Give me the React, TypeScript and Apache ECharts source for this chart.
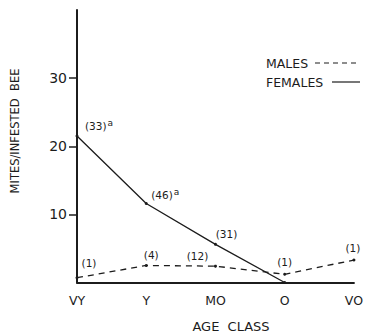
import React, { useEffect, useRef } from "react";
import * as echarts from "echarts";

const categories = ["VY", "Y", "MO", "O", "VO"];
const femaleValues: (number | null)[] = [21.5, 11.6, 5.6, 0, null];
const maleValues = [0.7, 2.5, 2.4, 1.2, 3.3];
const femaleCounts = ["(33)", "(46)", "(31)", "", ""];
const femaleSup = ["a", "a", "", "", ""];
const maleCounts = ["(1)", "(4)", "(12)", "(1)", "(1)"];
const yTicks = [10, 20, 30];

const INK = "#1c1c1c";
const FONT = "DejaVu Sans, sans-serif";

const femaleOffsets = [[22, -1], [19, 1], [11, -3], [0, 0], [0, 0]];
const maleOffsets = [[12, -8], [5, -3], [-18, -3], [0, -5], [-1, -5]];

export default function App() {
  const ref = useRef<HTMLDivElement>(null);
  useEffect(() => {
    if (!ref.current) return;
    const chart = echarts.init(ref.current, null, { renderer: "svg" });
    const rich = {
      n: { fontSize: 10.5, fontFamily: FONT, color: INK },
      s: { fontSize: 9, fontFamily: FONT, color: INK, verticalAlign: "top", padding: [0, 0, 6, 1] },
    };
    const femaleData = femaleValues.map((v, i) => ({
      value: v,
      label: {
        show: femaleCounts[i] !== "",
        position: "top",
        distance: 0,
        offset: femaleOffsets[i],
        formatter: femaleSup[i] ? `{n|${femaleCounts[i]}}{s|${femaleSup[i]}}` : `{n|${femaleCounts[i]}}`,
        rich,
      },
    }));
    const maleData = maleValues.map((v, i) => ({
      value: v,
      label: {
        show: true,
        position: "top",
        distance: 0,
        offset: maleOffsets[i],
        formatter: `{n|${maleCounts[i]}}`,
        rich,
      },
    }));
    chart.setOption({
      animation: false,
      backgroundColor: "#ffffff",
      grid: { left: 77, right: 9, top: 10, bottom: 49.5, containLabel: false },
      xAxis: {
        type: "category",
        data: categories,
        boundaryGap: false,
        axisLine: { lineStyle: { color: INK, width: 2 } },
        axisTick: { show: false },
        axisLabel: { color: INK, fontSize: 12.5, fontFamily: FONT, margin: 11 },
        splitLine: { show: false },
      },
      yAxis: {
        type: "value",
        min: 0,
        max: 40,
        interval: 10,
        axisLine: { show: true, lineStyle: { color: INK, width: 2 } },
        axisTick: { show: true, length: 8, customValues: yTicks, lineStyle: { color: INK, width: 1.5 } },
        axisLabel: { color: INK, fontSize: 14, fontFamily: FONT, margin: 10, customValues: yTicks },
        splitLine: { show: false },
      },
      graphic: [
        {
          type: "text",
          x: 15,
          y: 131,
          rotation: Math.PI / 2,
          style: {
            text: "MITES/INFESTED  BEE",
            fill: INK,
            font: `11.5px ${FONT}`,
            align: "center",
            verticalAlign: "middle",
          },
        },
        {
          type: "text",
          x: 231,
          y: 326,
          style: {
            text: "AGE  CLASS",
            fill: INK,
            font: `13px ${FONT}`,
            align: "center",
            verticalAlign: "middle",
          },
        },
        {
          type: "text",
          x: 266,
          y: 63,
          style: { text: "MALES", fill: INK, font: `12.5px ${FONT}`, align: "left", verticalAlign: "middle" },
        },
        {
          type: "line",
          shape: { x1: 315, y1: 63, x2: 360, y2: 63 },
          style: { stroke: INK, lineWidth: 1.2, lineDash: [5, 4] },
        },
        {
          type: "text",
          x: 266,
          y: 82,
          style: { text: "FEMALES", fill: INK, font: `12.5px ${FONT}`, align: "left", verticalAlign: "middle" },
        },
        {
          type: "line",
          shape: { x1: 332, y1: 82, x2: 360, y2: 82 },
          style: { stroke: INK, lineWidth: 1.2 },
        },
      ],
      series: [
        {
          name: "FEMALES",
          type: "line",
          data: femaleData,
          symbol: "circle",
          symbolSize: 3,
          itemStyle: { color: INK },
          lineStyle: { color: INK, width: 1.3 },
          connectNulls: false,
        },
        {
          name: "MALES",
          type: "line",
          data: maleData,
          symbol: "circle",
          symbolSize: 3,
          itemStyle: { color: INK },
          lineStyle: { color: INK, width: 1.3, type: [6, 5] },
        },
      ],
    });
    return () => chart.dispose();
  }, []);
  return <div ref={ref} style={{ width: 366, height: 332, position: "fixed", left: 0, top: 0 }} />;
}
